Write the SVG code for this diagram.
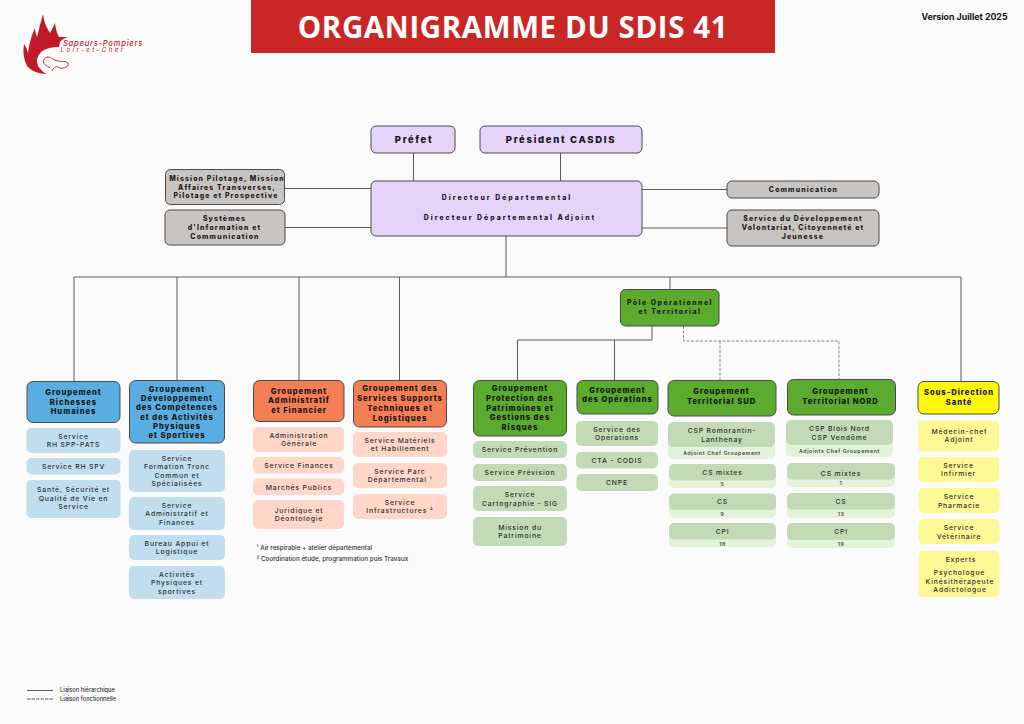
<svg xmlns="http://www.w3.org/2000/svg" width="1024" height="724" viewBox="0 0 1024 724">
<style>
text{font-family:"Inter","Open Sans","Liberation Sans",sans-serif;text-anchor:middle}
.h{font-size:7.6px;font-weight:800;letter-spacing:.95px;fill:#141414}
.t{font-size:6.9px;font-weight:800;letter-spacing:1.15px;fill:#1c1c1c}
.s{font-size:6.8px;font-weight:500;letter-spacing:.85px;fill:#2e2e2e}
.m{font-size:5.2px;font-weight:600;letter-spacing:.6px;fill:#444}
.n{font-size:6.3px;font-weight:500;fill:#333;text-anchor:start}
.b{stroke:#4a4a4a;stroke-width:1}
.pu{fill:#e6d3f9}.gy{fill:#c8c4c2}.bl{fill:#5aade0}.or{fill:#f47f54}.gr{fill:#5aab2e}.ye{fill:#fff70e}
.lb{fill:#c0deee}.lo{fill:#ffd6c7}.lg{fill:#c2dab5}.lh{fill:#e2f3d9}.ly{fill:#fdf895}
#connectors path{fill:none;stroke:#5a5a5a;stroke-width:1}
#connectors .d{stroke:#8a8a8a;stroke-dasharray:3 1.5}
</style>
<rect width="1024" height="724" fill="#fbfbfb"/>
<g id="logo">
<path d="M24 44Q27 48 28 53Q30 38 35 28Q35 33 37 37Q40 25 43 14Q44 24 50 33Q53 28 55 23Q56 32 59 37L68 37Q62 39 60 42L59 47Q47 47 41 52Q35 58 38 66Q41 71 47 74Q34 74 27 66Q22 56 24 44Z" fill="#c01a28"/>
<path d="M43 61C46 55 50 57 53 59C58 63 66 60 68 63C70 67 62 70 58 67C56 66 53 68 52 71M43 61C44 65 47 66 50 68" fill="none" stroke="#c01a28" stroke-width=".9"/>
<text x="103" y="46" style="font-size:7.6px;font-style:italic;font-weight:500;letter-spacing:.75px;fill:#c01a28">Sapeurs-Pompiers</text>
<text x="93" y="52" style="font-size:6.2px;font-style:italic;font-weight:400;letter-spacing:2.4px;fill:#c01a28">Loir-et-Cher</text>
</g>
<g id="title">
<rect x="251" width="524" height="53" fill="#c92626"/>
<text x="513" y="38" style="font-family:'Open Sans',sans-serif;font-size:29.5px;font-weight:700;fill:#fff;letter-spacing:.6px">ORGANIGRAMME DU SDIS 41</text>
</g>
<text x="964.500" y="20" style="font-size:8.800px;font-weight:700;fill:#111">Version Juillet 2025</text>
<g id="connectors">
<path d="M413.500 153V181M560.500 153V181M285 188.500H371M285 227.500H371M642 189.500H727M642 228H727"/>
<path d="M506 236V277M74 381V277H961V381M177 277V380M299 277V381M399.500 277V380M670 277V289"/>
<path d="M652 326V340H517.500V380M614.500 340V380"/>
<path class="d" d="M683.500 326V341H839V380M720 341V380"/>
<path d="M27 690.500H53"/><path d="M27 699H53" style="stroke-dasharray:3.500 1"/>
</g>
<g id="prefet"><rect class="pu b" x="371" y="126" width="84" height="27" rx="5"/><text class="h" style="font-size:9.500px;letter-spacing:1.600px" x="414" y="142.500">Préfet</text></g>
<g id="president"><rect class="pu b" x="480" y="126" width="162" height="27" rx="5"/><text class="h" style="font-size:9.500px;letter-spacing:1.700px" x="561" y="142.500">Président CASDIS</text></g>
<g id="dd"><rect class="pu b" x="371" y="181" width="271" height="55" rx="5"/><text class="t" style="letter-spacing:2px" x="507" y="199.500">Directeur Départemental</text><text class="t" style="letter-spacing:2px" x="510" y="220">Directeur Départemental Adjoint</text></g>
<g id="mission"><rect class="gy b" x="165.500" y="169.500" width="119" height="35" rx="5"/><text class="t" x="227" y="180.500">Mission Pilotage, Mission</text><text class="t" x="227" y="189.500">Affaires Transverses,</text><text class="t" x="226" y="198">Pilotage et Prospective</text></g>
<g id="si"><rect class="gy b" x="165" y="210" width="120" height="35" rx="5"/><text class="t" x="224.500" y="221">Systèmes</text><text class="t" x="224.500" y="230">d'Information et</text><text class="t" x="225" y="239">Communication</text></g>
<g id="comm"><rect class="gy b" x="727" y="181" width="152" height="17" rx="5"/><text class="t" x="803.500" y="191.800">Communication</text></g>
<g id="sdv"><rect class="gy b" x="727" y="210" width="152" height="36" rx="5"/><text class="t" x="803" y="221">Service du Développement</text><text class="t" x="803" y="230">Volontariat, Citoyenneté et</text><text class="t" x="803" y="239">Jeunesse</text></g>
<g id="pole"><rect class="gr b" x="620.500" y="289.500" width="98.500" height="36.500" rx="5"/><text class="t" style="letter-spacing:1.500px" x="670" y="304.500">Pôle Opérationnel</text><text class="t" style="letter-spacing:1.500px" x="670" y="314">et Territorial</text></g>

<g id="g-rh"><rect class="bl b" x="27" y="381.500" width="93" height="41" rx="6"/><text class="h" x="73.500" y="395">Groupement</text><text class="h" x="73.500" y="404.500">Richesses</text><text class="h" x="73.500" y="414">Humaines</text></g>
<g id="rh1"><rect class="lb" x="26.500" y="428" width="94" height="25" rx="5"/><text class="s" x="73.500" y="438.500">Service</text><text class="s" x="73.500" y="447">RH SPP-PATS</text></g>
<g id="rh2"><rect class="lb" x="26.500" y="458" width="94" height="16.500" rx="5"/><text class="s" x="73.500" y="468.800">Service RH SPV</text></g>
<g id="rh3"><rect class="lb" x="26.500" y="480" width="94" height="38" rx="5"/><text class="s" x="73.500" y="492">Santé, Sécurité et</text><text class="s" x="73.500" y="500.500">Qualité de Vie en</text><text class="s" x="73.500" y="509">Service</text></g>

<g id="g-dev"><rect class="bl b" x="129.500" y="380.500" width="95" height="62.500" rx="6"/><text class="h" x="177" y="392">Groupement</text><text class="h" x="177" y="401">Développement</text><text class="h" x="177" y="410">des Compétences</text><text class="h" x="177" y="419.500">et des Activités</text><text class="h" x="177" y="428.500">Physiques</text><text class="h" x="177" y="437.500">et Sportives</text></g>
<g id="dev1"><rect class="lb" x="129" y="450" width="96" height="42" rx="5"/><text class="s" x="177" y="460.500">Service</text><text class="s" x="177" y="469">Formation Tronc</text><text class="s" x="177" y="477.500">Commun et</text><text class="s" x="177" y="486">Spécialisées</text></g>
<g id="dev2"><rect class="lb" x="129" y="497" width="96" height="33" rx="5"/><text class="s" x="177" y="507.500">Service</text><text class="s" x="177" y="516">Administratif et</text><text class="s" x="177" y="524.500">Finances</text></g>
<g id="dev3"><rect class="lb" x="129" y="535" width="96" height="25" rx="5"/><text class="s" x="177" y="545.500">Bureau Appui et</text><text class="s" x="177" y="554">Logistique</text></g>
<g id="dev4"><rect class="lb" x="129" y="566" width="96" height="33" rx="5"/><text class="s" x="177" y="576.500">Activités</text><text class="s" x="177" y="585">Physiques et</text><text class="s" x="177" y="593.500">sportives</text></g>

<g id="g-adm"><rect class="or b" x="253.500" y="380.500" width="90.500" height="41" rx="6"/><text class="h" x="299" y="394">Groupement</text><text class="h" x="299" y="403">Administratif</text><text class="h" x="299" y="413">et Financier</text></g>
<g id="adm1"><rect class="lo" x="253" y="427" width="91" height="25" rx="5"/><text class="s" x="299" y="437.500">Administration</text><text class="s" x="299" y="446">Générale</text></g>
<g id="adm2"><rect class="lo" x="253" y="457" width="91" height="16.500" rx="5"/><text class="s" x="299" y="467.800">Service Finances</text></g>
<g id="adm3"><rect class="lo" x="253" y="478.500" width="91" height="16.500" rx="5"/><text class="s" x="299" y="489.800">Marchés Publics</text></g>
<g id="adm4"><rect class="lo" x="253" y="500" width="91" height="29" rx="5"/><text class="s" x="299" y="512.800">Juridique et</text><text class="s" x="299" y="521">Déontologie</text></g>

<g id="g-sup"><rect class="or b" x="353.500" y="380.500" width="93" height="46.500" rx="6"/><text class="h" x="400" y="391">Groupement des</text><text class="h" x="400" y="401">Services Supports</text><text class="h" x="400" y="411">Techniques et</text><text class="h" x="400" y="420.500">Logistiques</text></g>
<g id="sup1"><rect class="lo" x="353" y="432" width="94" height="25" rx="5"/><text class="s" x="400" y="442.500">Service Matériels</text><text class="s" x="400" y="451">et Habillement</text></g>
<g id="sup2"><rect class="lo" x="353" y="463" width="94" height="25" rx="5"/><text class="s" x="400" y="473.500">Service Parc</text><text class="s" x="400" y="482">Départemental ¹</text></g>
<g id="sup3"><rect class="lo" x="353" y="494" width="94" height="25" rx="5"/><text class="s" x="400" y="505">Service</text><text class="s" x="400" y="513">Infrastructures ²</text></g>
<text class="n" x="256.500" y="549.500">¹ Air respirable + atelier départemental</text>
<text class="n" x="256.500" y="561">² Coordination étude, programmation puis Travaux</text>

<g id="g-pro"><rect class="gr b" x="473.500" y="380.500" width="93" height="55.500" rx="6"/><text class="h" x="520" y="391">Groupement</text><text class="h" x="520" y="401">Protection des</text><text class="h" x="520" y="410.500">Patrimoines et</text><text class="h" x="520" y="420">Gestions des</text><text class="h" x="520" y="429.500">Risques</text></g>
<g id="pro1"><rect class="lg" x="473" y="441" width="94" height="17" rx="5"/><text class="s" x="520" y="452">Service Prévention</text></g>
<g id="pro2"><rect class="lg" x="473" y="464" width="94" height="17" rx="5"/><text class="s" x="520" y="474.500">Service Prévision</text></g>
<g id="pro3"><rect class="lg" x="473" y="486" width="94" height="25" rx="5"/><text class="s" x="520" y="496.800">Service</text><text class="s" x="520" y="505.500">Cartographie - SIG</text></g>
<g id="pro4"><rect class="lg" x="473" y="517" width="94" height="29" rx="5"/><text class="s" x="520" y="529.500">Mission du</text><text class="s" x="520" y="538">Patrimoine</text></g>

<g id="g-ope"><rect class="gr b" x="577" y="380.500" width="81" height="33.500" rx="6"/><text class="h" x="617.500" y="392.500">Groupement</text><text class="h" x="617.500" y="402">des Opérations</text></g>
<g id="ope1"><rect class="lg" x="576" y="421" width="82" height="25" rx="5"/><text class="s" x="617" y="431.500">Service des</text><text class="s" x="617" y="440">Opérations</text></g>
<g id="ope2"><rect class="lg" x="576" y="452" width="82" height="16.500" rx="5"/><text class="s" x="617" y="462.800">CTA - CODIS</text></g>
<g id="ope3"><rect class="lg" x="576.500" y="474" width="81.500" height="17" rx="5"/><text class="s" x="617" y="485">CNPE</text></g>

<g id="g-sud"><rect class="gr b" x="668" y="380.500" width="108" height="35.500" rx="6"/><text class="h" x="721.500" y="394">Groupement</text><text class="h" x="721.500" y="403.500">Territorial SUD</text></g>
<g id="sud1"><rect class="lh" x="668" y="435" width="107" height="24" rx="5"/><rect class="lg" x="668" y="422" width="107" height="25" rx="5"/><text class="s" x="722" y="432.800">CSP Romorantin-</text><text class="s" x="722" y="441.500">Lanthenay</text><text class="m" x="722" y="455">Adjoint Chef Groupement</text></g>
<g id="sud2"><rect class="lh" x="669" y="472" width="107" height="16" rx="5"/><rect class="lg" x="669" y="464" width="107" height="16.500" rx="5"/><text class="s" x="722.500" y="474.500">CS mixtes</text><text class="m" x="722.500" y="486">5</text></g>
<g id="sud3"><rect class="lh" x="669" y="502" width="107" height="16" rx="5"/><rect class="lg" x="669" y="493.500" width="107" height="16.500" rx="5"/><text class="s" x="722.500" y="504">CS</text><text class="m" x="722.500" y="516">9</text></g>
<g id="sud4"><rect class="lh" x="669" y="531" width="107" height="16" rx="5"/><rect class="lg" x="669" y="523" width="107" height="16.500" rx="5"/><text class="s" x="722.500" y="533.500">CPI</text><text class="m" x="722.500" y="546">18</text></g>

<g id="g-nor"><rect class="gr b" x="787.500" y="379.500" width="108" height="35.500" rx="6"/><text class="h" x="840.500" y="394">Groupement</text><text class="h" x="840.500" y="403.500">Territorial NORD</text></g>
<g id="nor1"><rect class="lh" x="786" y="433" width="107" height="24" rx="5"/><rect class="lg" x="786" y="420" width="107" height="25" rx="5"/><text class="s" x="839.500" y="430.800">CSP Blois Nord</text><text class="s" x="839.500" y="439.500">CSP Vendôme</text><text class="m" x="839.500" y="453">Adjoints Chef Groupement</text></g>
<g id="nor2"><rect class="lh" x="787" y="471" width="108" height="16" rx="5"/><rect class="lg" x="787" y="463" width="108" height="16.500" rx="5"/><text class="s" x="841" y="475.800">CS mixtes</text><text class="m" x="841" y="485">1</text></g>
<g id="nor3"><rect class="lh" x="787" y="502" width="108" height="16" rx="5"/><rect class="lg" x="787" y="493" width="108" height="16.500" rx="5"/><text class="s" x="841" y="503.800">CS</text><text class="m" x="841" y="516">13</text></g>
<g id="nor4"><rect class="lh" x="787" y="532" width="108" height="16" rx="5"/><rect class="lg" x="787" y="523" width="108" height="17" rx="5"/><text class="s" x="841" y="534">CPI</text><text class="m" x="841" y="546">19</text></g>

<g id="g-san"><rect class="ye b" x="918" y="381.500" width="81" height="32.500" rx="6"/><text class="h" x="959" y="395">Sous-Direction</text><text class="h" x="959" y="404.500">Santé</text></g>
<g id="san1"><rect class="ly" x="918" y="420.500" width="81" height="31" rx="5"/><text class="s" x="959.500" y="433.800">Médecin-chef</text><text class="s" x="959" y="442">Adjoint</text></g>
<g id="san2"><rect class="ly" x="918" y="457" width="81" height="25" rx="5"/><text class="s" x="958.500" y="467.800">Service</text><text class="s" x="958.500" y="476">Infirmier</text></g>
<g id="san3"><rect class="ly" x="918.500" y="488" width="81" height="25" rx="5"/><text class="s" x="959" y="498.800">Service</text><text class="s" x="959" y="507.500">Pharmacie</text></g>
<g id="san4"><rect class="ly" x="918.500" y="519" width="81" height="25" rx="5"/><text class="s" x="959" y="530">Service</text><text class="s" x="959" y="538.500">Vétérinaire</text></g>
<g id="san5"><rect class="ly" x="918.500" y="551" width="81" height="46" rx="5"/><text class="s" x="961" y="562">Experts</text><text class="s" x="959.500" y="575">Psychologue</text><text class="s" x="960" y="583.500">Kinésithérapeute</text><text class="s" x="960" y="592">Addictologue</text></g>
<g id="legend"><text class="n" x="60" y="692" style="font-size:5.700px">Liaison hiérarchique</text><text class="n" x="60" y="701" style="font-size:5.700px">Liaison fonctionnelle</text></g>
</svg>
